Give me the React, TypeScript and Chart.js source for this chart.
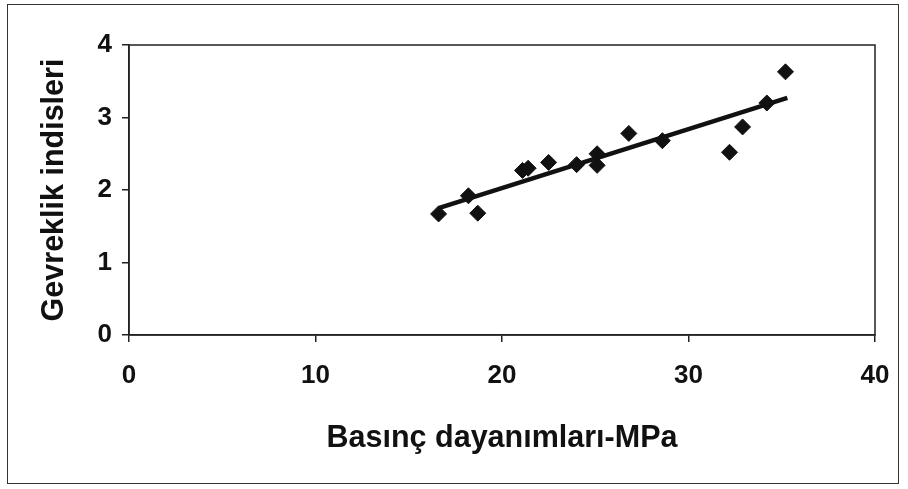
import { useEffect, useRef } from "react";
import { Chart, registerables } from "chart.js";

Chart.register(...registerables);

// Compressive strength (MPa) and brittleness index of the samples
const strength = [16.6, 18.2, 18.7, 21.1, 21.4, 22.5, 24.0, 25.1, 25.1, 26.8, 28.6, 32.2, 32.9, 34.2, 35.2];
const brittleness = [1.67, 1.92, 1.68, 2.27, 2.3, 2.38, 2.35, 2.5, 2.34, 2.78, 2.68, 2.52, 2.87, 3.2, 3.63];

// Linear trend line end points
const trendX = [16.6, 35.3];
const trendY = [1.75, 3.27];

const xTicks = [0, 10, 20, 30, 40];
const yTicks = [0, 1, 2, 3, 4];

const xTitle = "Basınç dayanımları-MPa";
const yTitle = "Gevreklik indisleri";

const FONT = "'Liberation Sans', Arial, Helvetica, sans-serif";
const INK = "#111111";

const W = 908;
const H = 489;
const PLOT_LEFT = 129;
const PLOT_RIGHT = 875;
const PLOT_TOP = 45;
const PLOT_BOTTOM = 335;

const frame = {
  id: "plotFrame",
  beforeDatasetsDraw(chart: any) {
    const { ctx, chartArea } = chart;
    ctx.save();
    ctx.strokeStyle = "#222222";
    ctx.lineWidth = 1.5;
    ctx.strokeRect(chartArea.left, chartArea.top, chartArea.right - chartArea.left, chartArea.bottom - chartArea.top);
    ctx.restore();
  },
};

export default function App() {
  const canvasRef = useRef<HTMLCanvasElement | null>(null);

  useEffect(() => {
    const canvas = canvasRef.current;
    if (!canvas) return;
    const points = strength.map((x, i) => ({ x, y: brittleness[i] }));
    const trend = trendX.map((x, i) => ({ x, y: trendY[i] }));

    const chart = new Chart(canvas, {
      type: "scatter",
      data: {
        datasets: [
          {
            type: "line",
            data: trend,
            borderColor: INK,
            borderWidth: 4.5,
            pointRadius: 0,
            fill: false,
            order: 2,
          },
          {
            data: points,
            pointStyle: "rectRot",
            pointRadius: 8,
            backgroundColor: INK,
            borderColor: INK,
            borderWidth: 1,
            order: 1,
          },
        ],
      },
      options: {
        responsive: false,
        animation: false,
        events: [],
        layout: { padding: { top: PLOT_TOP, right: W - PLOT_RIGHT, left: 0, bottom: 0 } },
        plugins: { legend: { display: false }, tooltip: { enabled: false } },
        scales: {
          x: {
            type: "linear",
            min: 0,
            max: 40,
            afterBuildTicks: (s: any) => {
              s.ticks = xTicks.map((v) => ({ value: v }));
            },
            afterFit: (s: any) => {
              s.height = H - PLOT_BOTTOM;
            },
            grid: { display: true, drawOnChartArea: false, drawTicks: true, tickLength: 7, color: "#222222", lineWidth: 1.5 },
            border: { display: true, color: "#222222", width: 1.5 },
            ticks: { color: INK, font: { family: FONT, size: 26, weight: "bold" }, padding: 18, maxRotation: 0 },
            title: {
              display: true,
              text: xTitle,
              color: INK,
              font: { family: FONT, size: 30.5, weight: "bold" },
              padding: { top: 0, bottom: 32 },
            },
          },
          y: {
            type: "linear",
            min: 0,
            max: 4,
            afterBuildTicks: (s: any) => {
              s.ticks = yTicks.map((v) => ({ value: v }));
            },
            afterFit: (s: any) => {
              s.width = PLOT_LEFT;
            },
            grid: { display: true, drawOnChartArea: false, drawTicks: true, tickLength: 7, color: "#222222", lineWidth: 1.5 },
            border: { display: true, color: "#222222", width: 1.5 },
            ticks: { color: INK, font: { family: FONT, size: 26, weight: "bold" }, padding: 10 },
            title: {
              display: true,
              text: yTitle,
              color: INK,
              font: { family: FONT, size: 30.5, weight: "bold" },
              padding: { top: 36, bottom: 0 },
            },
          },
        },
      },
      plugins: [frame],
    });
    return () => chart.destroy();
  }, []);

  return (
    <div style={{ position: "absolute", left: 0, top: 0, width: W, height: H }}>
      <div
        style={{
          position: "absolute",
          left: 7,
          top: 4,
          width: 892,
          height: 480,
          boxSizing: "border-box",
          border: "1.5px solid #333333",
        }}
      />
      <canvas
        ref={canvasRef}
        width={W}
        height={H}
        style={{ position: "absolute", left: 0, top: 0, width: W, height: H }}
      />
    </div>
  );
}
